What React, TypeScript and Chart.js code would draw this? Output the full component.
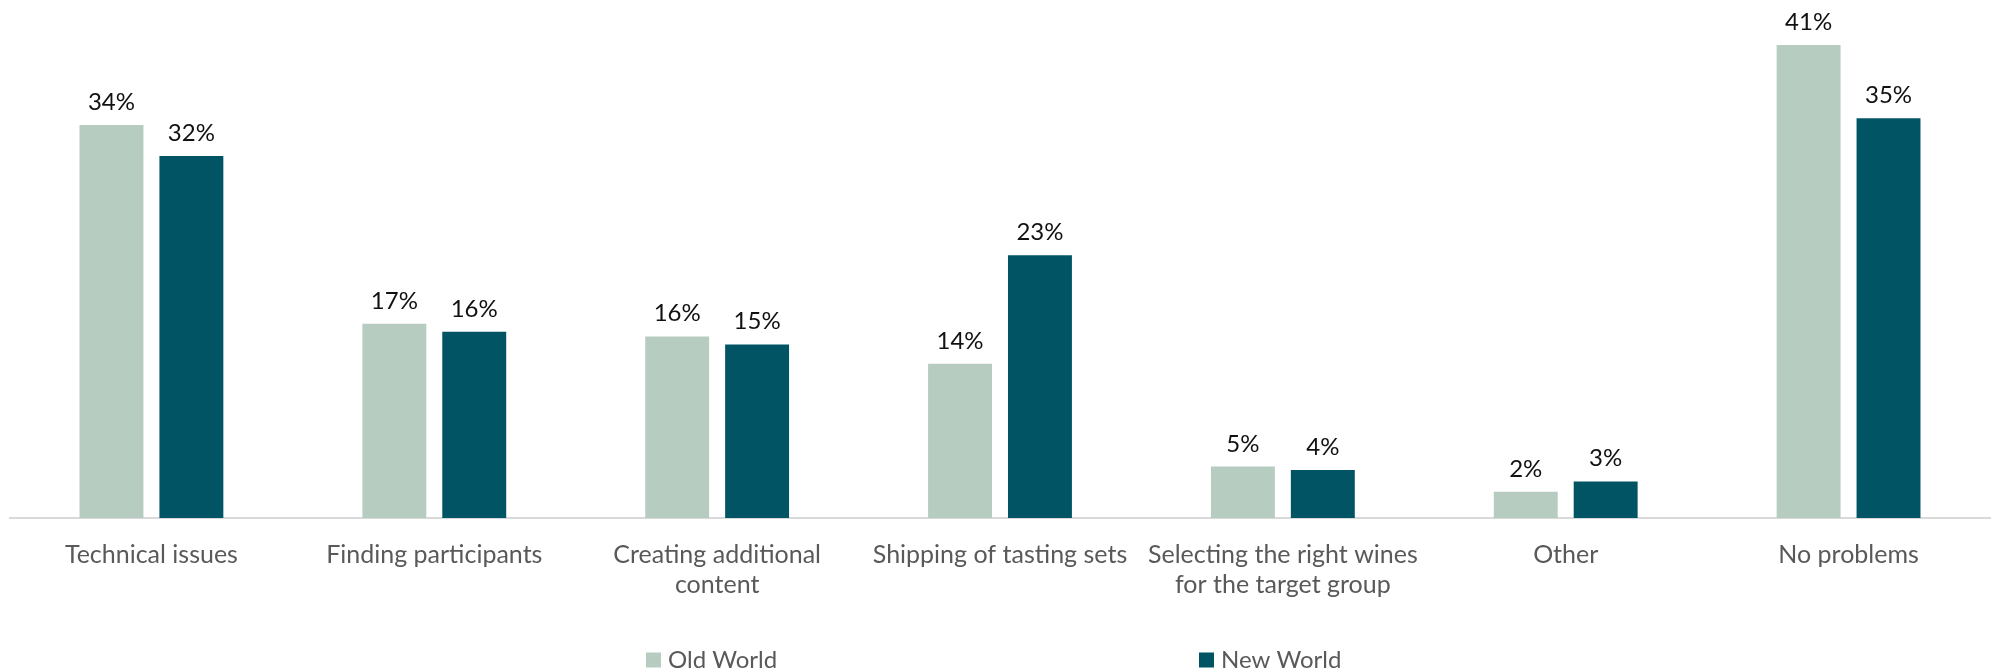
import React, { useEffect, useRef } from "react";
import { Chart, registerables } from "chart.js";

Chart.register(...registerables);

const categories: (string | string[])[] = [
  "Technical issues",
  "Finding participants",
  ["Creating additional", "content"],
  "Shipping of tasting sets",
  ["Selecting the right wines", "for the target group"],
  "Other",
  "No problems",
];
const seriesNames = ["Old World", "New World"];
const oldWorld = [34.4, 17.0, 15.9, 13.5, 4.5, 2.3, 41.4];
const newWorld = [31.7, 16.3, 15.2, 23.0, 4.2, 3.2, 35.0];
const seriesColors = ["#B6CCC1", "#005464"];

const FONT = "Lato, 'Open Sans', sans-serif";

const dataLabelPlugin = {
  id: "dataLabels",
  afterDatasetsDraw(chart: any) {
    const ctx = chart.ctx;
    ctx.save();
    ctx.font = `24px ${FONT}`;
    ctx.fillStyle = "#111111";
    ctx.textAlign = "center";
    ctx.textBaseline = "alphabetic";
    chart.data.datasets.forEach((ds: any, di: number) => {
      const meta = chart.getDatasetMeta(di);
      meta.data.forEach((el: any, i: number) => {
        const v = ds.data[i];
        ctx.fillText(Math.round(v) + "%", el.x, el.y - 15);
      });
    });
    ctx.restore();
  },
};

const legendPlugin = {
  id: "customLegend",
  afterDraw(chart: any) {
    const ctx = chart.ctx;
    const positions = [646, 1199];
    ctx.save();
    ctx.font = `24px ${FONT}`;
    ctx.textBaseline = "alphabetic";
    ctx.textAlign = "left";
    seriesNames.forEach((name, i) => {
      const x = positions[i];
      ctx.fillStyle = seriesColors[i];
      ctx.fillRect(x, 652.5, 15, 15);
      ctx.fillStyle = "#595959";
      ctx.fillText(name, x + 22, 667.5);
    });
    ctx.restore();
  },
};

export default function App() {
  const canvasRef = useRef<HTMLCanvasElement | null>(null);

  useEffect(() => {
    document.body.style.margin = "0";
    const canvas = canvasRef.current;
    if (!canvas) return;
    const chart = new Chart(canvas, {
      type: "bar",
      data: {
        labels: categories as any,
        datasets: [
          {
            label: seriesNames[0],
            data: oldWorld,
            backgroundColor: seriesColors[0],
            categoryPercentage: 0.565,
            barPercentage: 0.8,
          },
          {
            label: seriesNames[1],
            data: newWorld,
            backgroundColor: seriesColors[1],
            categoryPercentage: 0.565,
            barPercentage: 0.8,
          },
        ],
      },
      options: {
        responsive: false,
        animation: false,
        layout: { padding: { top: 4, left: 10, right: 4, bottom: 0 } },
        plugins: {
          legend: { display: false },
          tooltip: { enabled: false },
        },
        scales: {
          x: {
            grid: { display: false, drawTicks: false },
            border: { display: true, color: "#D9D9D9", width: 2 },
            ticks: {
              color: "#595959",
              font: { family: FONT, size: 25, lineHeight: 1.2 },
              padding: 22,
              autoSkip: false,
              maxRotation: 0,
              minRotation: 0,
            },
            afterFit(scale: any) {
              scale.height = 154;
            },
          },
          y: {
            display: false,
            min: 0,
            max: 45,
          },
        },
      },
      plugins: [dataLabelPlugin, legendPlugin],
    });
    return () => chart.destroy();
  }, []);

  return (
    <canvas
      ref={canvasRef}
      width={1994}
      height={672}
      style={{ display: "block", position: "absolute", left: 0, top: 0 }}
    />
  );
}
